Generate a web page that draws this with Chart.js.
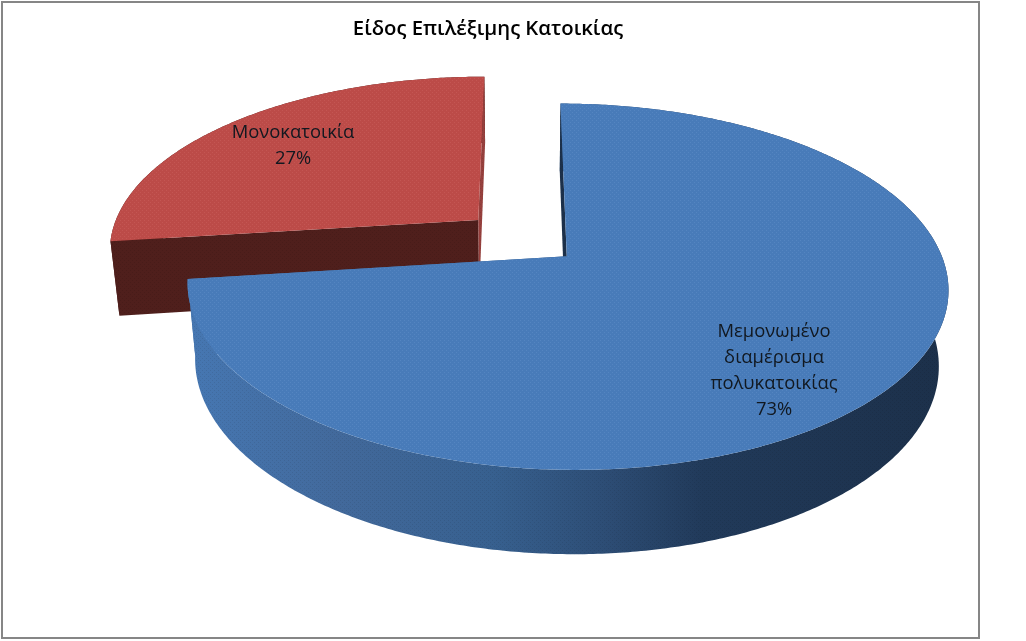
<!DOCTYPE html>
<html>
<head>
<meta charset="utf-8">
<title>Είδος Επιλέξιμης Κατοικίας</title>
<script src="https://cdn.jsdelivr.net/npm/chart.js@4"></script>
<style>
html, body { margin: 0; padding: 0; background: #fff; }
#box { position: absolute; left: 0; top: 0; width: 1026px; height: 641px; }
</style>
</head>
<body>
<div id="box"><canvas id="pieChart"></canvas></div>
<script>
// chart data
var chartTitle = "Είδος Επιλέξιμης Κατοικίας";
var categories = ["Μεμονωμένο διαμέρισμα πολυκατοικίας", "Μονοκατοικία"];
var shares = [73, 27];

// label text broken the way the picture has it, and where each block is centred
var labelLines = [["Μεμονωμένο", "διαμέρισμα", "πολυκατοικίας"], ["Μονοκατοικία"]];
var labelSpots = [[774, 371], [293, 146]];

// colors for the slices
var topColors = ["#487bb9", "#bc4b48"];
var speckColors = ["#5485c1", "#c45653"];

// the look of the tilted pie: a perspective view of the flat pie plane
var view = { x0: 522.5, y0: 256, bx: 375, ay: 178, k: 0.166, depthY: 77, depthW: 0.0225 };
var pieCenter = { u: -0.002, v: -0.104 };
var explode = 0.16;

// plane coordinates to screen, z is 0 on the top face and 1 on the underside
function project(u, v, z) {
    var w = 1 - view.k * v + view.depthW * z;
    return {
        x: view.x0 + view.bx * u / w,
        y: view.y0 + (view.ay * v + view.depthY * z) / w
    };
}

// small tile with dots, the picture has this grain on the faces
function makeGrain(ctx, base, speck) {
    var tile = document.createElement('canvas');
    tile.width = 4;
    tile.height = 4;
    var t = tile.getContext('2d');
    if (base) {
        t.fillStyle = base;
        t.fillRect(0, 0, 4, 4);
    }
    t.fillStyle = speck;
    t.fillRect(0, 0, 1, 1);
    t.fillRect(2, 2, 1, 1);
    return ctx.createPattern(tile, 'repeat');
}

function pathThrough(ctx, pts) {
    ctx.beginPath();
    for (var i = 0; i < pts.length; i++) {
        if (i === 0) ctx.moveTo(pts[i].x, pts[i].y);
        else ctx.lineTo(pts[i].x, pts[i].y);
    }
    ctx.closePath();
}

// walk the rim of one slice in plane coordinates
function rimPoints(arc, cu, cv, z) {
    var pts = [];
    var steps = Math.ceil((arc.endAngle - arc.startAngle) / 0.01);
    for (var i = 0; i <= steps; i++) {
        var a = arc.startAngle + (arc.endAngle - arc.startAngle) * i / steps;
        pts.push(project(cu + Math.cos(a), cv + Math.sin(a), z));
    }
    return pts;
}

function drawSlice(ctx, arc, index) {
    var mid = (arc.startAngle + arc.endAngle) / 2;
    var cu = pieCenter.u + explode * Math.cos(mid);
    var cv = pieCenter.v + explode * Math.sin(mid);

    var rimTop = rimPoints(arc, cu, cv, 0);
    var rimBottom = rimPoints(arc, cu, cv, 1);
    var tipTop = project(cu, cv, 0);
    var tipBottom = project(cu, cv, 1);
    var last = rimTop.length - 1;

    var side;
    var edgeStart;
    var edgeEnd;
    if (index === 0) {
        side = ctx.createLinearGradient(190, 0, 945, 0);
        side.addColorStop(0, "#4677b2");
        side.addColorStop(0.2, "#42699b");
        side.addColorStop(0.4, "#37608f");
        side.addColorStop(0.55, "#2d4d75");
        side.addColorStop(0.68, "#213a5a");
        side.addColorStop(1, "#1c304a");
        edgeStart = "#1c304a";
        edgeEnd = side;
    } else {
        side = "#4f1f1c";
        edgeStart = "#4f1f1c";
        edgeEnd = "#96403d";
    }

    var walls = [
        { fill: side, pts: rimTop.concat(rimBottom.slice().reverse()) },
        { fill: edgeStart, pts: [tipTop, rimTop[0], rimBottom[0], tipBottom] },
        { fill: edgeEnd, pts: [tipTop, rimTop[last], rimBottom[last], tipBottom] }
    ];
    var shade = makeGrain(ctx, null, "rgba(0,0,0,0.08)");
    for (var i = 0; i < walls.length; i++) {
        pathThrough(ctx, walls[i].pts);
        ctx.fillStyle = walls[i].fill;
        ctx.fill();
        ctx.fillStyle = shade;
        ctx.fill();
    }

    // top face
    ctx.fillStyle = makeGrain(ctx, topColors[index], speckColors[index]);
    pathThrough(ctx, [tipTop].concat(rimTop));
    ctx.fill();
}

function drawLabel(ctx, index) {
    var lines = labelLines[index].concat([shares[index] + "%"]);
    var lineHeight = 26;
    var y = labelSpots[index][1] - (lines.length - 1) * lineHeight / 2;
    ctx.font = "18.4px 'Open Sans'";
    ctx.fillStyle = "#111820";
    ctx.textAlign = "center";
    ctx.textBaseline = "middle";
    for (var i = 0; i < lines.length; i++) {
        ctx.fillText(lines[i], labelSpots[index][0], y + i * lineHeight);
    }
}

// chart.js has no 3d pie, so draw the arcs it laid out through the view above
var pie3d = {
    id: 'pie3d',
    beforeDraw: function (chart) {
        var ctx = chart.ctx;
        ctx.save();
        ctx.strokeStyle = "#868686";
        ctx.lineWidth = 2;
        ctx.strokeRect(2, 2, 977, 636);
        ctx.restore();
    },
    beforeDatasetsDraw: function (chart) {
        var ctx = chart.ctx;
        var arcs = chart.getDatasetMeta(0).data;
        ctx.save();
        // red one is further back so it goes first
        drawSlice(ctx, arcs[1], 1);
        drawSlice(ctx, arcs[0], 0);
        drawLabel(ctx, 0);
        drawLabel(ctx, 1);
        ctx.restore();
        return false;
    }
};

var chartObj = new Chart(document.getElementById('pieChart').getContext('2d'), {
    type: 'pie',
    data: {
        labels: categories,
        datasets: [{
            data: shares,
            backgroundColor: topColors,
            borderWidth: 0
        }]
    },
    plugins: [pie3d],
    options: {
        responsive: true,
        maintainAspectRatio: false,
        animation: false,
        layout: { padding: { right: 50, top: 17 } },
        plugins: {
            legend: { display: false },
            tooltip: { enabled: false },
            title: {
                display: true,
                text: chartTitle,
                color: "#000",
                font: { size: 20.3, weight: '600', family: "'Open Sans'" },
                padding: { top: 0, bottom: 10 }
            }
        }
    }
});
</script>
</body>
</html>
